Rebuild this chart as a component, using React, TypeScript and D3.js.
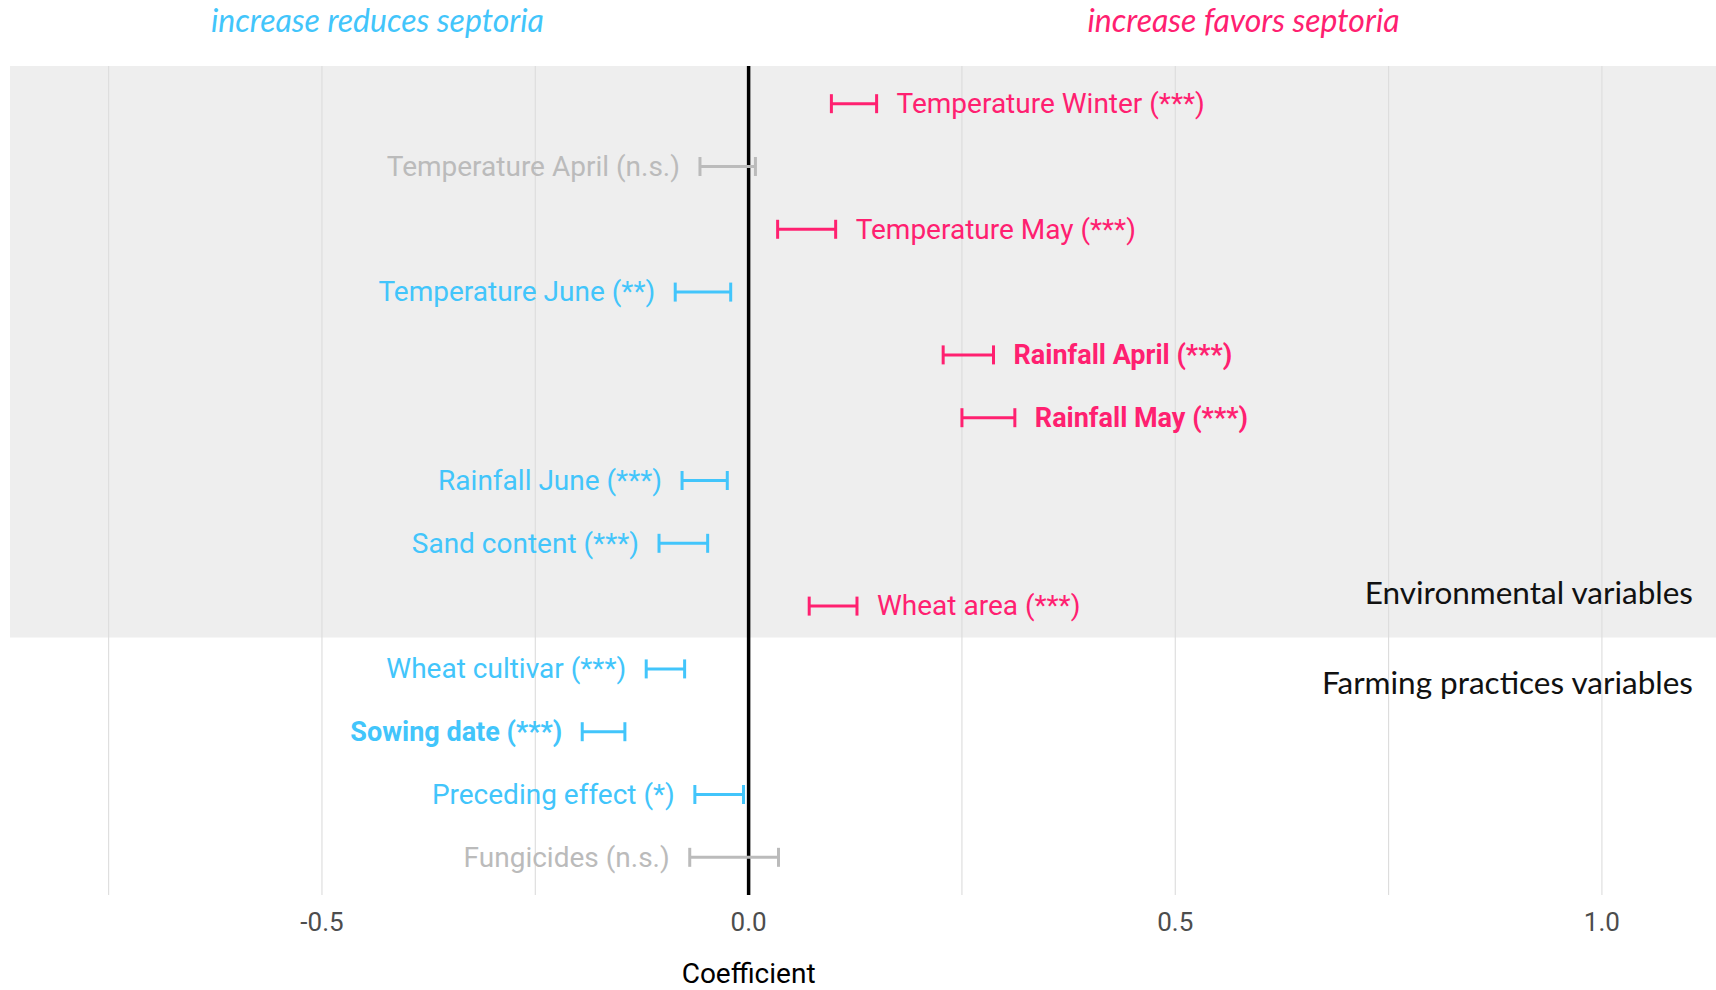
import React from "react";
import * as d3 from "d3";

// Model coefficients (95% interval) for each explanatory variable
const variables = [
  "Temperature Winter",
  "Temperature April",
  "Temperature May",
  "Temperature June",
  "Rainfall April",
  "Rainfall May",
  "Rainfall June",
  "Sand content",
  "Wheat area",
  "Wheat cultivar",
  "Sowing date",
  "Preceding effect",
  "Fungicides",
];
const significance = ["***", "n.s.", "***", "**", "***", "***", "***", "***", "***", "***", "***", "*", "n.s."];
const lower = [0.097, -0.057, 0.034, -0.086, 0.228, 0.25, -0.078, -0.105, 0.071, -0.12, -0.195, -0.063, -0.069];
const upper = [0.15, 0.008, 0.102, -0.021, 0.287, 0.312, -0.025, -0.048, 0.127, -0.075, -0.145, -0.006, 0.035];
const highlighted = ["Rainfall April", "Rainfall May", "Sowing date"];
const environmentalCount = 9;

const majorTicks = [-0.5, 0, 0.5, 1.0];
const minorTicks = [-0.75, -0.25, 0.25, 0.75];

const W = 1716;
const H = 990;
const PINK = "#ff2070";
const BLUE = "#42c5fb";
const GREY = "#bbbbbb";
const LABEL_FONT = "Roboto, 'Noto Sans', sans-serif";
const TITLE_FONT = "Lato, 'Open Sans', sans-serif";

export default function App() {
  const panel = { left: 10, right: W, top: 66, bottom: 895 };
  const x = d3.scaleLinear().domain([-0.8656, 1.1337]).range([panel.left, panel.right]);
  const y = d3.scalePoint<string>().domain(variables).range([panel.top, panel.bottom]).padding(0.6);
  const step = y.step();
  const bandBottom = (y(variables[environmentalCount - 1]) as number) + step / 2;

  const rows = variables.map((name, i) => {
    const lo = lower[i];
    const hi = upper[i];
    const sig = significance[i];
    const colour = sig === "n.s." ? GREY : (lo + hi) / 2 > 0 ? PINK : BLUE;
    const right = (lo + hi) / 2 > 0;
    return { name, lo, hi, sig, colour, right, yy: y(name) as number, bold: highlighted.includes(name) };
  });

  const capH = 19;

  return (
    <svg
      width={W}
      height={H}
      viewBox={`0 0 ${W} ${H}`}
      style={{ position: "absolute", left: 0, top: 0, background: "#ffffff" }}
    >
      {/* environmental variables band */}
      <rect x={panel.left} y={panel.top} width={panel.right - panel.left} height={bandBottom - panel.top} fill="#eeeeee" />

      {/* grid */}
      {[...minorTicks, ...majorTicks].map((t) => (
        <line key={`g${t}`} x1={x(t)} x2={x(t)} y1={panel.top} y2={panel.bottom} stroke="#dcdcdc" strokeWidth={1.1} />
      ))}

      {/* zero reference */}
      <line x1={x(0)} x2={x(0)} y1={panel.top} y2={panel.bottom} stroke="#000" strokeWidth={3.5} />

      {/* error bars with labels */}
      {rows.map((r) => (
        <g key={r.name} stroke={r.colour} strokeWidth={3}>
          <line x1={x(r.lo)} x2={x(r.hi)} y1={r.yy} y2={r.yy} />
          <line x1={x(r.lo)} x2={x(r.lo)} y1={r.yy - capH / 2} y2={r.yy + capH / 2} />
          <line x1={x(r.hi)} x2={x(r.hi)} y1={r.yy - capH / 2} y2={r.yy + capH / 2} />
          <text
            x={r.right ? x(r.hi) + 20 : x(r.lo) - 20}
            y={r.yy}
            dy="0.33em"
            textAnchor={r.right ? "start" : "end"}
            fill={r.colour}
            stroke="none"
            fontFamily={LABEL_FONT}
            fontSize={r.bold ? 27 : 28}
            fontWeight={r.bold ? 700 : 400}
          >
            {`${r.name} (${r.sig})`}
          </text>
        </g>
      ))}

      {/* group annotations */}
      <text x={panel.right - 23} y={bandBottom - 34} textAnchor="end" fontFamily={TITLE_FONT} fontSize={31.5} fill="#111">
        Environmental variables
      </text>
      <text x={panel.right - 23} y={bandBottom + 34} dy="0.72em" textAnchor="end" fontFamily={TITLE_FONT} fontSize={31.5} fill="#111">
        Farming practices variables
      </text>

      {/* direction captions */}
      <text x={x(-0.435)} y={32} textAnchor="middle" fontFamily={TITLE_FONT} fontStyle="italic" fontSize={32} fill={BLUE}>
        increase reduces septoria
      </text>
      <text x={x(0.58)} y={32} textAnchor="middle" fontFamily={TITLE_FONT} fontStyle="italic" fontSize={32} fill={PINK}>
        increase favors septoria
      </text>

      {/* x axis */}
      {majorTicks.map((t) => (
        <text key={`t${t}`} x={x(t)} y={931} textAnchor="middle" fontFamily={LABEL_FONT} fontSize={26} fill="#4d4d4d">
          {d3.format(".1f")(t).replace("−", "-")}
        </text>
      ))}
      <text x={x(0)} y={983} textAnchor="middle" fontFamily={LABEL_FONT} fontSize={28} fill="#000">
        Coefficient
      </text>
    </svg>
  );
}
